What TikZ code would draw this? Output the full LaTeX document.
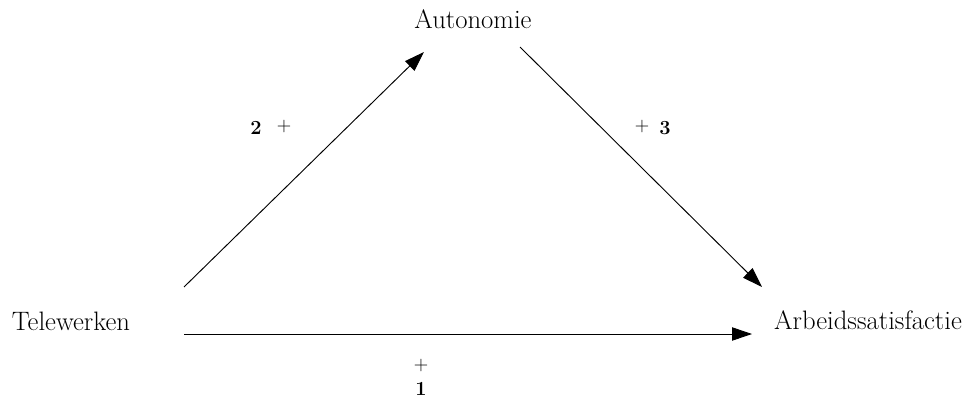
\documentclass[tikz,border=0pt]{standalone}
\usetikzlibrary{arrows.meta}
\begin{document}
\begin{tikzpicture}[x=0.75pt,y=-0.75pt,
  var/.style={font=\fontsize{20}{23}\selectfont},
  sign/.style={font=\fontsize{15}{17}\selectfont},
  pijl/.style={line width=0.7pt,-{Triangle[length=15pt,width=10pt]}}]
\useasboundingbox (0,0) rectangle (963,399);
\node[var] (A) at (473,19) {Autonomie};
\node[var] (T) at (71,321) {Telewerken};
\node[var] (S) at (868,320) {Arbeidssatisfactie};
% eindpunten van de pijlen
\coordinate (T1) at (184,287);
\coordinate (A1) at (424,52);
\coordinate (A2) at (520,47);
\coordinate (S1) at (762,287);
\coordinate (T2) at (184,334);
\coordinate (S2) at (752,334);
\draw[pijl] (T1) -- (A1);
\draw[pijl] (A2) -- (S1);
\draw[pijl] (T2) -- (S2);
\node[sign] (n2) at (256,128) {\textbf{2}};
\node[sign] (p2) at (284,127) {+};
\node[sign] (p3) at (642,127) {+};
\node[sign] (n3) at (665,128) {\textbf{3}};
\node[sign] (p1) at (421,366) {+};
\node[sign] (n1) at (421,389) {\textbf{1}};
\end{tikzpicture}
\end{document}
